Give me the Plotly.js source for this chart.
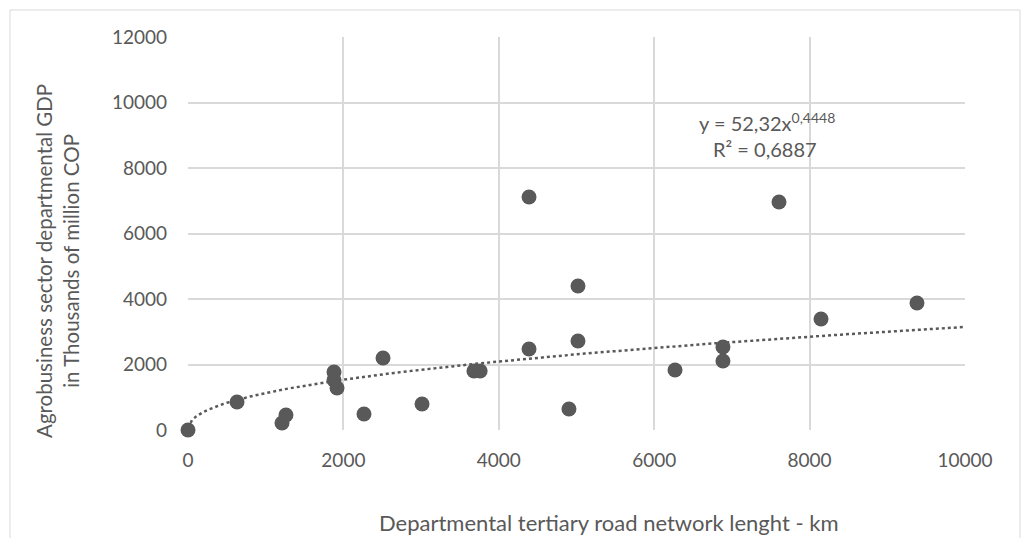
<!DOCTYPE html>
<html>
<head>
<meta charset="utf-8">
<script src="https://cdn.plot.ly/plotly-3.0.1.min.js"></script>
<style>html,body{margin:0;padding:0;background:#fff;}#chart{width:1027px;height:538px;}</style>
</head>
<body>
<div id="chart"></div>
<script>
// Data
const roadLengthKm = [0, 631, 1210, 1261, 1879, 1879, 1918, 2265, 2510, 3012, 3680, 3760, 4389, 4389, 5019, 5019, 4903, 6268, 6885, 6885, 7606, 8147, 9382];
const gdpThousandsMillionCOP = [0, 855, 214, 458, 1771, 1527, 1282, 489, 2198, 794, 1802, 1802, 2473, 7115, 4397, 2718, 641, 1832, 2534, 2107, 6962, 3389, 3878];

// Power trendline coefficients as displayed in the chart
const trendA = 52.32;
const trendB = 0.4448;
const trendX = [];
for (let v = 1; v <= 10000; v += 50) trendX.push(v);
trendX.push(10000);
const trendY = trendX.map(v => trendA * Math.pow(v, trendB));

const xTicks = [0, 2000, 4000, 6000, 8000, 10000];
const yTicks = [0, 2000, 4000, 6000, 8000, 10000, 12000];

const xTitle = 'Departmental tertiary road network lenght - km';
const yTitle = 'Agrobusiness sector departmental GDP<br>in Thousands of million COP';

const fontFam = 'Lato, "Open Sans", sans-serif';
const gray = '#595959';
const grid = '#d9d9d9';

const traces = [
  {
    x: trendX, y: trendY, mode: 'lines', type: 'scatter',
    line: {color: gray, width: 2.5, dash: 'dot'},
    hoverinfo: 'skip', showlegend: false
  },
  {
    x: roadLengthKm, y: gdpThousandsMillionCOP, mode: 'markers', type: 'scatter',
    marker: {color: gray, size: 15},
    cliponaxis: false,
    showlegend: false
  }
];

const layout = {
  width: 1027, height: 538,
  margin: {l: 188, r: 62, t: 37, b: 108},
  paper_bgcolor: '#fff', plot_bgcolor: '#fff',
  font: {family: fontFam, color: gray, size: 19},
  xaxis: {
    range: [0, 10000], tickvals: xTicks, ticktext: xTicks.map(String),
    showgrid: true, gridcolor: grid, gridwidth: 2,
    zeroline: false, showline: false, ticks: '',
    tickfont: {size: 19, color: gray, family: fontFam},
    ticklabelstandoff: 17
  },
  yaxis: {
    range: [0, 12000], tickvals: yTicks, ticktext: yTicks.map(String),
    showgrid: true, gridcolor: grid, gridwidth: 2,
    zeroline: false, showline: false, ticks: '',
    tickfont: {size: 19, color: gray, family: fontFam},
    ticklabelstandoff: 20
  },
  annotations: [
    {xref: 'paper', yref: 'paper', x: (609 - 188) / 777, y: (430 - 522) / 393, text: xTitle, showarrow: false, textangle: 0, xanchor: 'center', yanchor: 'middle', font: {size: 22, color: gray, family: fontFam}},
    {xref: 'paper', yref: 'paper', x: (57 - 188) / 777, y: (430 - 261) / 393, text: yTitle, showarrow: false, textangle: -90, xanchor: 'center', yanchor: 'middle', font: {size: 20.5, color: gray, family: fontFam}},
    {xref: 'x', yref: 'y', x: 7450, y: 9400, text: 'y = 52,32x<sup>0,4448</sup>', showarrow: false, font: {size: 20, color: gray, family: fontFam}, xanchor: 'center'},
    {xref: 'x', yref: 'y', x: 7430, y: 8570, text: 'R² = 0,6887', showarrow: false, font: {size: 20, color: gray, family: fontFam}, xanchor: 'center'}
  ],
  shapes: [
    {type: 'rect', xref: 'paper', yref: 'paper', x0: -178/777, x1: 832/777, y0: -0.3, y1: 420/393, line: {color: grid, width: 1}, fillcolor: 'rgba(0,0,0,0)', layer: 'below'}
  ]
};

Plotly.newPlot('chart', traces, layout, {displayModeBar: false, staticPlot: true});
</script>
</body>
</html>
